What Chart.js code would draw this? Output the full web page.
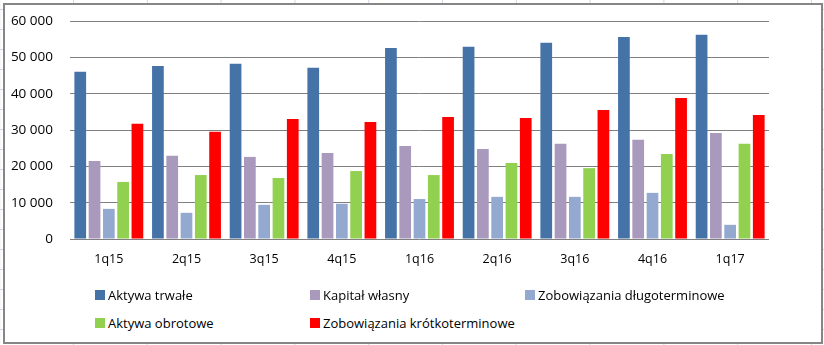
<!DOCTYPE html>
<html>
<head>
<meta charset="utf-8">
<script src="https://cdn.jsdelivr.net/npm/chart.js@4.4.0/dist/chart.umd.min.js"></script>
<style>
  html, body { margin: 0; padding: 0; }
  body {
    width: 824px; height: 345px; position: relative; overflow: hidden;
    background-color: #fff;
    background-image:
      linear-gradient(to right, #d0d7e5 1px, transparent 1px),
      linear-gradient(to bottom, #d0d7e5 1px, transparent 1px);
    background-size: 73.8px 20px;
    background-position: 73px 9px;
    font-family: "Open Sans", sans-serif;
  }
  #frame {
    position: absolute; left: 3px; top: 3px; width: 816px; height: 337px;
    border: 2px solid #868686; background: #fff;
  }
  #chart { position: absolute; left: 0; top: 0; }
  #legend { position: absolute; left: 0; top: 0; }
  .item { position: absolute; font-size: 13px; line-height: 14px; color: #000; white-space: nowrap; }
  .item span.box { position: absolute; left: 0; top: 2px; width: 10px; height: 10px; }
  .item span.txt { position: absolute; left: 13px; top: 0; }
</style>
</head>
<body>
<div id="frame">
  <canvas id="chart" width="816" height="290"></canvas>
  <div id="legend"></div>
</div>
<script>
const categories = ['1q15', '2q15', '3q15', '4q15', '1q16', '2q16', '3q16', '4q16', '1q17'];
const seriesNames = ['Aktywa trwałe', 'Kapitał własny', 'Zobowiązania długoterminowe', 'Aktywa obrotowe', 'Zobowiązania krótkoterminowe'];
const aktywaTrwale = [46000, 47600, 48200, 47100, 52600, 52900, 54000, 55600, 56200];
const kapitalWlasny = [21500, 22900, 22600, 23700, 25600, 24800, 26200, 27300, 29200];
const zobowiazaniaDlugo = [8300, 7200, 9400, 9700, 11000, 11600, 11600, 12700, 3900];
const aktywaObrotowe = [15700, 17600, 16800, 18700, 17600, 20900, 19500, 23400, 26200];
const zobowiazaniaKrotko = [31700, 29500, 33000, 32200, 33600, 33300, 35500, 38800, 34100];
const yTicks = [0, 10000, 20000, 30000, 40000, 50000, 60000];

const colors = ['#4673a7', '#a99abd', '#94a9d0', '#92d050', '#ff0000'];
const values = [aktywaTrwale, kapitalWlasny, zobowiazaniaDlugo, aktywaObrotowe, zobowiazaniaKrotko];

const datasets = seriesNames.map(function (name, i) {
    return {
        label: name,
        data: values[i],
        backgroundColor: colors[i],
        borderWidth: 0,
        categoryPercentage: 0.92,
        barPercentage: 0.82
    };
});

function fmt(v) {
    return String(v).replace(/\B(?=(\d{3})+(?!\d))/g, ' ');
}

const ctx = document.getElementById('chart').getContext('2d');
const chart = new Chart(ctx, {
    type: 'bar',
    data: { labels: categories, datasets: datasets },
    options: {
        responsive: false,
        animation: false,
        layout: { padding: { top: 16, right: 52, bottom: 28, left: 0 } },
        plugins: { legend: { display: false }, tooltip: { enabled: false } },
        scales: {
            x: {
                grid: { display: false },
                border: { display: false },
                afterFit: function (scale) { scale.height = 28; },
                ticks: { color: '#000', padding: 5, font: { family: 'Open Sans', size: 12.5 } }
            },
            y: {
                min: 0,
                max: 60000,
                afterBuildTicks: function (scale) {
                    scale.ticks = yTicks.map(function (v) { return { value: v }; });
                },
                afterFit: function (scale) {
                    scale.width = 65;
                    scale.paddingTop = 0;
                    scale.paddingBottom = 0;
                },
                grid: { color: '#808080', lineWidth: 1, drawTicks: false },
                border: { display: false },
                ticks: {
                    color: '#000', padding: 17,
                    font: { family: 'Open Sans', size: 13.5 },
                    callback: function (v) { return fmt(v); }
                }
            }
        }
    }
});

// legend laid out in fixed columns like the original
const legend = document.getElementById('legend');
chart.data.datasets.forEach(function (ds, i) {
    const el = document.createElement('div');
    el.className = 'item';
    el.style.left = (90 + (i % 3) * 215) + 'px';
    el.style.top = (283 + Math.floor(i / 3) * 28) + 'px';
    el.innerHTML = '<span class="box" style="background:' + ds.backgroundColor + '"></span><span class="txt">' + ds.label + '</span>';
    legend.appendChild(el);
});
</script>
</body>
</html>
